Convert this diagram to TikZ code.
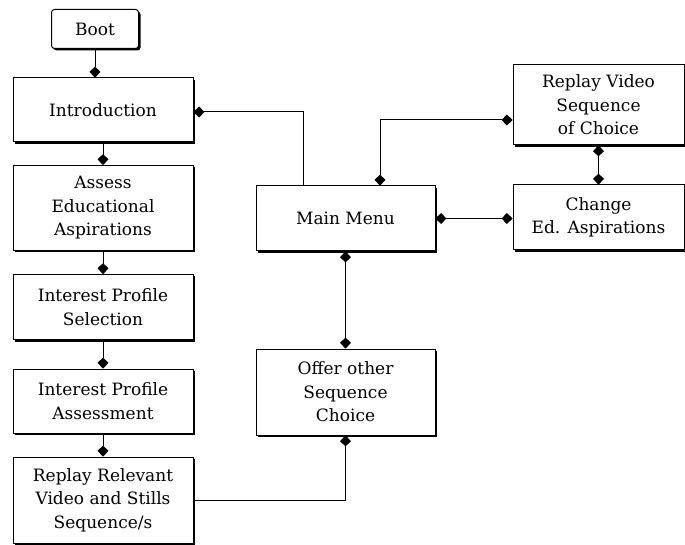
\documentclass[tikz,border=0pt]{standalone}
\usepackage{fontspec}
\setmainfont{DejaVu Serif}
\usetikzlibrary{arrows.meta,shadows}
\tikzset{
  box/.style={draw,line width=1pt,fill=white,inner sep=0pt,align=center,
    font=\fontsize{17}{23.5}\selectfont,
    drop shadow={shadow xshift=2pt,shadow yshift=-2pt,opacity=1,fill=black}},
  tip/.tip={Kite[length=11pt,width=11pt,inset=5pt,round]},
  link/.style={line width=1pt}
}
\begin{document}
\begin{tikzpicture}[x=1pt,y=-1pt]
\useasboundingbox (0,0) rectangle (685,545);
% left column
\node[box,rounded corners=3pt,minimum width=87pt,minimum height=39pt] (boot) at (95,29) {Boot};
\node[box,minimum width=180pt,minimum height=64pt] (intro) at (103,110) {Introduction};
\node[box,minimum width=180pt,minimum height=85pt] (assess) at (103,208) {Assess\\Educational\\Aspirations};
\node[box,minimum width=180pt,minimum height=65pt] (select) at (103,307) {Interest Profile\\Selection};
\node[box,minimum width=180pt,minimum height=64pt] (profile) at (103,401) {Interest Profile\\Assessment};
\node[box,minimum width=180pt,minimum height=86pt] (relevant) at (103,500) {Replay Relevant\\Video and Stills\\Sequence/s};
% middle column
\node[box,minimum width=179pt,minimum height=65pt] (menu) at (345.5,218.5) {Main Menu};
\node[box,minimum width=179pt,minimum height=86pt] (offer) at (345.5,392) {Offer other\\Sequence\\Choice};
% right column
\node[box,minimum width=171pt,minimum height=80pt] (choice) at (598.5,105) {Replay Video\\Sequence\\of Choice};
\node[box,minimum width=171pt,minimum height=65pt] (change) at (598.5,217.5) {Change\\Ed. Aspirations};
% chain down the left
\draw[link,-tip] (boot.south) -- (boot.south |- intro.north);
\draw[link,-tip] (intro.south) -- (assess.north);
\draw[link,-tip] (assess.south) -- (select.north);
\draw[link,-tip] (select.south) -- (profile.north);
\draw[link,-tip] (profile.south) -- (relevant.north);
% links of the main menu
\draw[link,-tip] ([xshift=-42.5pt]menu.north) |- ([yshift=-2pt]intro.east);
\draw[link,tip-tip] ([xshift=34.5pt]menu.north) |- ([yshift=-15pt]choice.west);
\draw[link,tip-tip] (menu.east) -- (menu.east -| change.west);
\draw[link,tip-tip] (choice.south) -- (change.north);
\draw[link,tip-tip] (menu.south) -- (offer.north);
\draw[link,-tip] (relevant.east) -| (offer.south);
\end{tikzpicture}
\end{document}
